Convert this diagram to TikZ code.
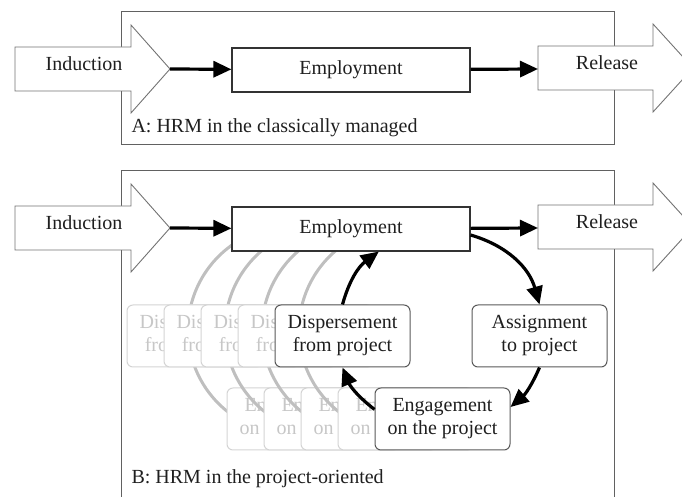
\documentclass[tikz,border=0pt]{standalone}
\usepackage{fontspec}
\setmainfont{Liberation Serif}
\usetikzlibrary{arrows.meta}
\begin{document}
\begin{tikzpicture}[x=1pt,y=1pt,
  txt/.style={font=\fontsize{20}{23}\selectfont, text=black!88},
  empbox/.style={draw=black!80, line width=1.1pt, fill=white, minimum width=238pt, minimum height=44pt, inner sep=0pt, txt},
  cycbox/.style={draw=black!65, line width=1pt, fill=white, rounded corners=6pt, minimum width=135pt, minimum height=62pt, inner sep=0pt, align=center, txt},
  ghostbox/.style={draw=black!17, line width=1pt, fill=white, rounded corners=6pt, minimum width=135pt, minimum height=62pt, inner sep=0pt, align=center, font=\fontsize{20}{23}\selectfont, text=black!22},
  ghostarc/.style={draw=black!25, line width=3pt},
  flow/.style={draw=black, line width=3.2pt, -{Triangle[length=18pt,width=16pt]}},
  blockarrow/.style={draw=black!55, line width=0.9pt, fill=white, line join=miter},
  framebox/.style={draw=black!62, line width=1pt},
]
\useasboundingbox (0,0) rectangle (682,497);
\clip (0,0) rectangle (682,497);

% ---------------- Panel A ----------------
\draw[framebox] (121,352) rectangle (614,485);
\draw[blockarrow] (15,406) -- (131,406) -- (131,384) -- (170,428) -- (131,472) -- (131,450) -- (15,450) -- cycle;
\coordinate (indAtip) at (170,428);
\node[txt] (indA) at (84,433) {Induction};
\draw[blockarrow] (538,407) -- (653,407) -- (653,385) -- (693,429) -- (653,473) -- (653,451) -- (538,451) -- cycle;
\coordinate (relAtail) at (538,428);
\node[txt] (relA) at (607,434) {Release};
\node[empbox] (empA) at (351,427) {Employment};
\draw[flow] (indAtip) -- (empA);
\draw[flow] (empA) -- (relAtail);
\node[txt, anchor=west] (labA) at (128,369) {A: HRM in the classically managed};

% ---------------- Panel B ----------------
\draw[framebox] (121,-10) rectangle (614,326);
\draw[blockarrow] (15,247) -- (131,247) -- (131,225) -- (170,269) -- (131,313) -- (131,291) -- (15,291) -- cycle;
\coordinate (indBtip) at (170,269);
\node[txt] (indB) at (84,274) {Induction};
\draw[blockarrow] (538,248) -- (653,248) -- (653,226) -- (693,270) -- (653,314) -- (653,292) -- (538,292) -- cycle;
\coordinate (relBtail) at (538,269);
\node[txt] (relB) at (607,275) {Release};

% faded copies of the left half of the cycle
\foreach \k in {4,3,2,1}{
  \draw[ghostarc] ({440-37*\k},167) ++(100:104) arc[start angle=100, end angle=250, radius=104];
  \node[ghostbox] (gdis\k) at ({342.5-37*\k},161) {Dispersement\\from project};
  \node[ghostbox] (geng\k) at ({442.5-37*\k},78) {Engagement\\on the project};
}

\node[empbox] (empB) at (351,268) {Employment};
\node[cycbox] (assign) at (539.5,161) {Assignment\\to project};
\node[cycbox] (engage) at (442.5,78) {Engagement\\on the project};
\node[cycbox] (disp) at (342.5,161) {Dispersement\\from project};

\draw[flow] (indBtip) -- (empB);
\draw[flow] (empB) -- (relBtail);
\draw[flow] ([yshift=-6pt]empB.east) to[bend left=29] (assign.north);
\draw[flow] (assign.south) to[bend left=13] (engage.10);
\draw[flow] (engage.172) to[bend left=15] (disp.south);
\draw[flow] (disp.north) to[bend left=19] (empB.-39);

\node[txt, anchor=west] (labB) at (128,18) {B: HRM in the project-oriented};
\end{tikzpicture}
\end{document}
